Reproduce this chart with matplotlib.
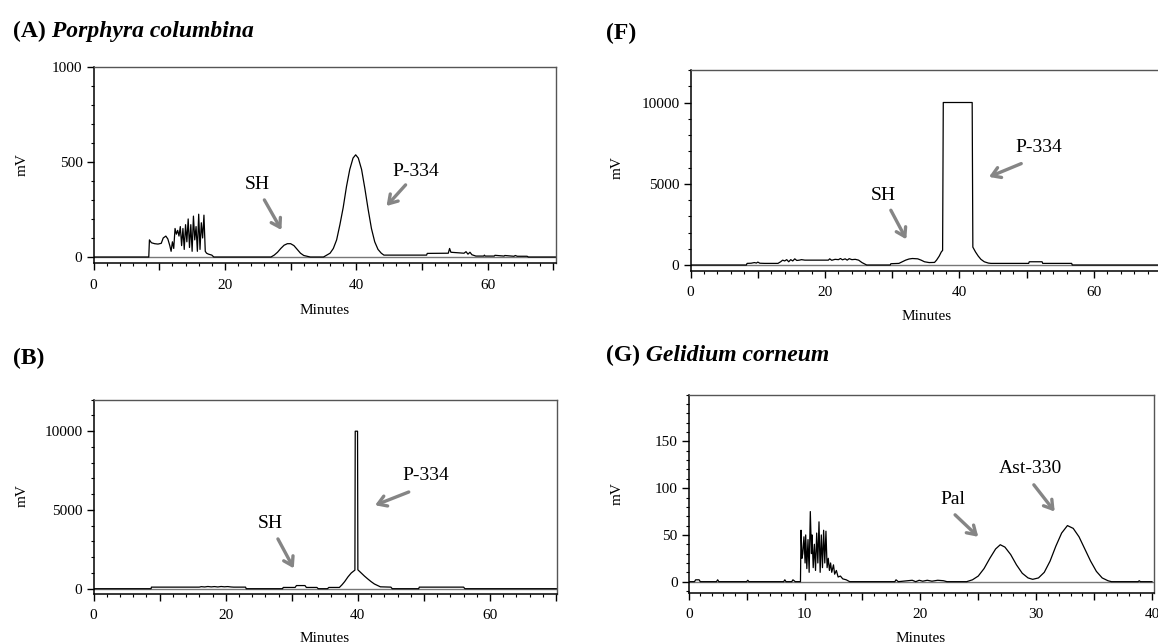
import numpy as np
import matplotlib
matplotlib.use('Agg')
import matplotlib.pyplot as plt
from matplotlib.ticker import MultipleLocator, FuncFormatter

plt.rcParams['font.family'] = ['Liberation Serif', 'DejaVu Serif']

W, H = 1158, 644

## (A) Porphyra columbina  -- time (min), signal (mV)
a_t = [0, 8.4, 8.5, 8.8, 9.3, 9.8, 10.3, 10.6, 11, 11.3, 11.6, 11.8, 12.0, 12.2, 12.4, 12.6,
       12.8, 13.0, 13.2, 13.4, 13.6, 13.8, 14.0, 14.2, 14.4, 14.6, 14.8, 15.0, 15.2, 15.4,
       15.6, 15.8, 16.0, 16.2, 16.4, 16.6, 16.8, 17.0, 17.2, 17.5, 18.0, 18.3,
       27, 27.5, 28, 28.5, 29, 29.5, 30, 30.5, 31, 31.5, 32, 33,
       35, 35.5, 36, 36.5, 37, 37.5, 38, 38.5, 39, 39.5, 39.9, 40.3, 40.8, 41.3, 41.8,
       42.3, 42.8, 43.3, 43.8, 44.2, 50.7, 50.8, 54.0, 54.2, 54.4, 56.4, 56.7, 57.0, 57.3,
       57.6, 58.2, 59.4, 59.5, 59.6, 61.0, 61.1, 62.5, 62.6, 64.0, 64.2, 64.5, 66.0, 66.2, 70.4]
a_mv = [0, 0, 90, 75, 70, 68, 72, 100, 110, 95, 60, 30, 80, 45, 150, 120,
        140, 110, 160, 60, 150, 40, 170, 80, 200, 50, 170, 30, 215, 90,
        160, 30, 225, 40, 180, 100, 220, 30, 20, 15, 10, 0,
        0, 10, 25, 45, 62, 70, 70, 60, 40, 20, 8, 0,
        0, 10, 20, 45, 90, 170, 260, 370, 460, 520, 537, 520, 460, 360, 250,
        150, 80, 40, 20, 10, 10, 19, 20, 45, 25, 20, 28, 15, 25,
        12, 5, 5, 10, 5, 5, 9, 5, 8, 4, 8, 4, 4, 0, 0]

## (B)
b_t = [0, 8.7, 8.75, 16.0, 16.3, 16.8, 17.3, 17.8, 18.3, 18.8, 19.3, 19.8, 20.3, 20.8, 21.2,
       23.0, 23.1, 28.6, 28.7, 30.5, 30.7, 32.0, 32.2, 33.8, 34.0, 35.4, 35.6, 37.2,
       37.6, 38.0, 38.5, 39.0, 39.55, 39.6, 39.95, 40.0, 40.5, 41.0, 41.5, 42.0, 42.5,
       43.0, 43.4, 45.0, 45.2, 49.2, 49.3, 56.0, 56.2, 70.2]
b_mv = [0, 0, 100, 100, 130, 110, 140, 115, 135, 110, 140, 120, 135, 110, 100,
        100, 0, 0, 80, 80, 200, 200, 80, 80, 0, 0, 80, 80,
        250, 450, 750, 1000, 1180, 10000, 10000, 1200, 1000, 800, 620, 450, 300,
        200, 120, 100, 0, 0, 100, 100, 0, 0]

## (F)
f_t = [0, 8.3, 8.4, 9.0, 9.5, 9.8, 10.0, 10.3, 11.0, 13.0, 13.4, 13.7, 14.0, 14.3, 14.6,
       14.9, 15.2, 15.5, 15.8, 16.2, 16.5, 17.0, 20.5, 20.7, 21.0, 21.5, 22.0, 22.3, 22.6,
       23.0, 23.3, 23.6, 24.0, 24.5, 25.0, 25.5, 26.2, 29.7, 29.8, 31.0, 31.5, 32.0, 32.5,
       33.0, 33.8, 34.3, 34.8, 35.5, 36.3, 36.6, 37.0, 37.3, 37.5, 37.6, 41.9, 42.0, 42.4,
       42.8, 43.2, 43.7, 44.3, 44.7, 50.3, 50.4, 52.3, 52.4, 56.7, 56.8, 71]
f_mv = [0, 0, 100, 110, 150, 120, 180, 110, 100, 100, 200, 300, 250, 330, 200,
        330, 250, 380, 280, 300, 330, 300, 300, 380, 290, 350, 330, 400, 320,
        380, 300, 390, 330, 350, 300, 150, 0, 0, 80, 100, 200, 300, 370,
        400, 380, 300, 200, 150, 160, 300, 550, 800, 900, 10000, 10000, 1100, 800,
        550, 350, 200, 120, 100, 100, 200, 200, 100, 100, 0, 0]

## (G) Gelidium corneum
g_t = [0, 0.5, 0.6, 0.9, 1.0, 2.4, 2.5, 2.6, 5.0, 5.1, 5.2, 8.2, 8.3, 8.4, 8.9, 9.0, 9.2,
       9.65, 9.7, 9.78, 9.85, 9.95, 10.05, 10.1, 10.2, 10.3, 10.4, 10.5, 10.6, 10.65, 10.75,
       10.85, 10.95, 11.05, 11.15, 11.25, 11.35, 11.45, 11.55, 11.65, 11.75, 11.85, 11.95,
       12.05, 12.15, 12.25, 12.35, 12.5, 12.6, 12.75, 12.9, 13.1, 13.3, 13.6, 13.9,
       17.8, 17.9, 18.1, 19.3, 19.6, 19.9, 20.2, 20.6, 21.0, 21.5, 22.0, 22.3, 24.0,
       24.5, 25.0, 25.5, 26.0, 26.5, 26.9, 27.3, 27.8, 28.3, 28.8, 29.3, 29.7, 30.2, 30.7,
       31.2, 31.7, 32.2, 32.7, 33.2, 33.7, 34.2, 34.7, 35.2, 35.7, 36.2, 36.5, 38.8, 38.9,
       39.0, 40.0]
g_mv = [0, 0, 2, 2, 0, 0, 2, 0, 0, 1.5, 0, 0, 2, 0, 0, 2, 0,
        0, 55, 25, 30, 48, 20, 50, 14, 45, 10, 75, 30, 50, 15,
        40, 12, 52, 20, 64, 10, 50, 15, 55, 20, 54, 15,
        25, 12, 20, 10, 18, 8, 12, 5, 6, 3, 2, 0,
        0, 2, 0, 1.5, 0, 1.5, 0.5, 1.5, 0.5, 1.5, 1, 0, 0,
        2, 6, 14, 25, 35, 39.5, 37, 29, 18, 9, 4, 2.5, 4, 10,
        22, 38, 52, 60, 57, 48, 35, 22, 11, 4, 1, 0, 0, 1,
        0, 0]


def rect(l, r, t, b):
    return [l / W, 1 - b / H, (r - l) / W, (b - t) / H]


def setup(ax, xlim, ylim, xmaj, xlab, xmin, ymaj, ymin):
    ax.set_xlim(*xlim)
    ax.set_ylim(*ylim)
    ax.xaxis.set_major_locator(MultipleLocator(xmaj))
    ax.xaxis.set_minor_locator(MultipleLocator(xmin))
    ax.xaxis.set_major_formatter(FuncFormatter(
        lambda v, p: f'{v:.0f}' if abs(v % xlab) < 1e-6 else ''))
    ax.set_yticks(ymaj)
    ax.yaxis.set_minor_locator(MultipleLocator(ymin))
    ax.tick_params(which='major', direction='out', length=5, width=1,
                   labelsize=11, color='black')
    ax.tick_params(which='minor', direction='out', length=2.5, width=0.8)
    ax.tick_params(axis='x', which='major', pad=6)
    ax.tick_params(axis='y', which='major', pad=3)
    for s in ['left', 'bottom']:
        ax.spines[s].set_color('black')
        ax.spines[s].set_linewidth(1.1)
    for s in ['top', 'right']:
        ax.spines[s].set_color('#555555')
        ax.spines[s].set_linewidth(1)
    ax.axhline(0, color='#777777', lw=1, zorder=1)


def trace(ax, t, mv):
    ax.plot(t, mv, color='black', lw=0.9, zorder=2)


def arrow(ax, label, txt, tail, head):
    ax.annotate('', xy=head, xytext=tail,
                arrowprops=dict(arrowstyle='->,head_length=0.6,head_width=0.38',
                                color='#858585', lw=2.4, shrinkA=0, shrinkB=0))
    ax.text(txt[0], txt[1], label, ha='center', va='center', fontsize=14)


def px(x, y):
    return x / W, 1 - y / H


fig = plt.figure(figsize=(W / 100, H / 100), dpi=100)

axA = fig.add_axes(rect(93.6, 556, 66.7, 263.3))
setup(axA, (0, 70.4), (-33, 1000), 10, 20, 2, [0, 500, 1000], 100)
trace(axA, a_t, a_mv)
arrow(axA, 'SH', (25.0, 379), (26.0, 300), (28.6, 142))
arrow(axA, 'P-334', (49.0, 447), (47.5, 379), (44.6, 268))

axB = fig.add_axes(rect(93.6, 557.4, 399.7, 593.7))
setup(axB, (0, 70.2), (-317, 12000), 10, 20, 2, [0, 5000, 10000], 1000)
trace(axB, b_t, b_mv)
arrow(axB, 'SH', (26.7, 4110), (27.9, 3160), (30.3, 1290))
arrow(axB, 'P-334', (50.3, 7180), (47.7, 6140), (42.6, 5300))

axF = fig.add_axes(rect(690.6, 1163.7, 70, 270.7))
setup(axF, (0, 70.4), (-350, 12000), 10, 20, 2, [0, 5000, 10000], 1000)
trace(axF, f_t, f_mv)
arrow(axF, 'SH', (28.7, 4300), (29.8, 3370), (32.1, 1580))
arrow(axF, 'P-334', (51.8, 7260), (49.2, 6240), (44.4, 5420))

axG = fig.add_axes(rect(688.7, 1154.3, 394.7, 592.7))
setup(axG, (0, 40.2), (-11.8, 200), 5, 10, 1, [0, 50, 100, 150], 10)
trace(axG, g_t, g_mv)
arrow(axG, 'Pal', (22.8, 88), (23.0, 71.5), (25.0, 48))
arrow(axG, 'Ast-330', (29.5, 121), (29.8, 103.6), (31.6, 75))

# axis labels
for x, y in [(22, 165), (22, 496), (617, 168), (617, 494)]:
    fig.text(*px(x, y), 'mV', rotation=90, ha='center', va='center', fontsize=11)
for x, y in [(325, 310), (325, 639), (927, 317), (921, 639)]:
    fig.text(*px(x, y), 'Minutes', ha='center', va='center', fontsize=11)

# panel titles: bold letter, bold italic species name
titles = [('(A)', ' Porphyra columbina', 13, 37), ('(F)', '', 606, 39),
          ('(B)', '', 13, 364), ('(G)', ' Gelidium corneum', 606, 361)]
fig.canvas.draw()
r = fig.canvas.get_renderer()
for lab, name, x, y in titles:
    t1 = fig.text(*px(x, y), lab, fontsize=17, fontweight='bold', va='baseline')
    if name:
        bb = t1.get_window_extent(renderer=r)
        fig.text(bb.x1 / W, 1 - y / H, name, fontsize=17, fontweight='bold',
                 fontstyle='italic', va='baseline')

fig.savefig('out.png', dpi=100)
